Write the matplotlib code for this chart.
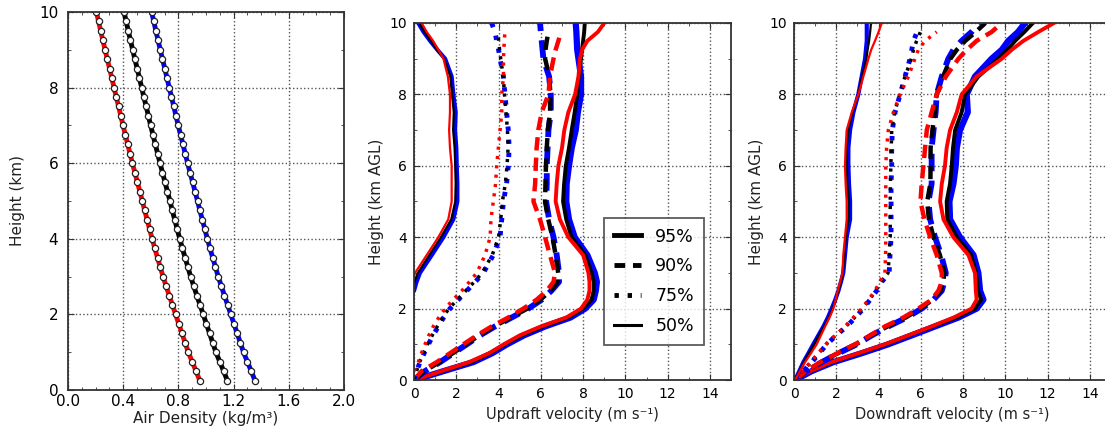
import numpy as np
import matplotlib
matplotlib.use('Agg')
from matplotlib import pyplot as plt
from matplotlib.ticker import MultipleLocator

nan = np.nan

# ---- panel 1: air density profiles ----
rho_height = [0.25, 0.5, 0.75, 1.0, 1.25, 1.5, 1.75, 2.0, 2.25, 2.5, 2.75, 3.0, 3.25, 3.5,
              3.75, 4.0, 4.25, 4.5, 4.75, 5.0, 5.25, 5.5, 5.75, 6.0, 6.25, 6.5, 6.75, 7.0,
              7.25, 7.5, 7.75, 8.0, 8.25, 8.5, 8.75, 9.0, 9.25, 9.5, 9.75, 10.0]
rho_red = [0.955, 0.928, 0.900, 0.872, 0.849, 0.826, 0.803, 0.780, 0.757, 0.734, 0.711, 0.689,
           0.669, 0.649, 0.629, 0.610, 0.592, 0.574, 0.556, 0.539, 0.521, 0.503, 0.485, 0.467,
           0.450, 0.433, 0.416, 0.399, 0.383, 0.367, 0.350, 0.334, 0.318, 0.302, 0.285, 0.269,
           0.253, 0.237, 0.222, 0.206]
rho_black = [1.155, 1.128, 1.100, 1.072, 1.049, 1.026, 1.003, 0.980, 0.957, 0.934, 0.911, 0.889,
             0.869, 0.849, 0.829, 0.810, 0.792, 0.774, 0.756, 0.739, 0.721, 0.703, 0.685, 0.667,
             0.650, 0.633, 0.616, 0.599, 0.583, 0.567, 0.550, 0.534, 0.518, 0.502, 0.485, 0.469,
             0.453, 0.437, 0.422, 0.406]
rho_blue = [1.355, 1.328, 1.300, 1.272, 1.249, 1.226, 1.203, 1.180, 1.157, 1.134, 1.111, 1.089,
            1.069, 1.049, 1.029, 1.010, 0.992, 0.974, 0.956, 0.939, 0.921, 0.903, 0.885, 0.867,
            0.850, 0.833, 0.816, 0.799, 0.783, 0.767, 0.750, 0.734, 0.718, 0.702, 0.685, 0.669,
            0.653, 0.637, 0.622, 0.606]

# ---- panels 2 & 3: velocity percentiles ----
z = [0, 0.25, 0.5, 0.75, 1, 1.25, 1.5, 1.75, 2, 2.25, 2.5, 2.75, 3, 3.5, 4, 4.5, 5,
     5.5, 6, 6.5, 7, 7.5, 8, 8.5, 9, 9.25, 9.5, 9.75, 10]

# updraft
up95_blue = [0.05, 1.4, 2.8, 3.7, 4.4, 5.2, 6.2, 7.4, 8.1, 8.5, 8.6, 8.65, 8.55, 8.2, 7.6, 7.33, 7.2,
             7.22, 7.33, 7.46, 7.65, 7.75, 7.9, 7.9, 7.78, 7.72, 7.7, 7.68, 7.65]
up95_black = [0.05, 1.35, 2.7, 3.6, 4.3, 5.1, 6.1, 7.3, 8.0, 8.4, 8.5, 8.5, 8.4, 8.1, 7.45, 7.2, 7.05,
              7.1, 7.18, 7.33, 7.46, 7.6, 7.72, 7.8, 7.9, 7.95, 8.0, 8.05, 8.08]
up95_red = [0.05, 1.3, 2.6, 3.55, 4.25, 5.0, 6.0, 7.2, 7.9, 8.2, 8.3, 8.3, 8.25, 8.0, 7.3, 6.9, 6.7,
            6.75, 6.83, 7.0, 7.11, 7.3, 7.62, 7.78, 7.85, 7.95, 8.2, 8.7, 9.0]
up90_blue = [0.0, 0.52, 1.23, 1.86, 2.5, 3.12, 3.83, 4.62, 5.41, 6.04, 6.5, 6.86, 6.86, 6.75, 6.6, 6.39, 6.25,
             6.28, 6.28, 6.32, 6.36, 6.47, 6.47, 6.39, 6.12, 6.08, 6.04, 6.0, 5.96]
up90_black = [0.0, 0.5, 1.2, 1.83, 2.47, 3.08, 3.79, 4.58, 5.36, 5.98, 6.45, 6.8, 6.82, 6.7, 6.55, 6.35, 6.2,
              6.22, 6.24, 6.28, 6.33, 6.44, 6.45, 6.4, 6.2, 6.22, 6.28, 6.36, nan]
up90_red = [0.0, 0.36, 1.07, 1.7, 2.33, 2.97, 3.67, 4.46, 5.17, 5.8, 6.28, 6.6, 6.67, 6.43, 6.2, 5.96, 5.65,
            5.73, 5.76, 5.8, 5.88, 6.04, 6.36, 6.43, 6.6, 6.7, 6.83, 6.95, nan]
up75_blue = [0.0, 0.13, 0.28, 0.48, 0.68, 0.9, 1.15, 1.4, 1.7, 2.1, 2.5, 2.9, 3.28, 3.75, 4.07, 4.15, 4.23,
             4.38, 4.46, 4.5, 4.46, 4.38, 4.3, 4.23, 4.07, 4.0, 3.91, 3.83, 3.67]
up75_black = [0.0, 0.12, 0.26, 0.45, 0.64, 0.86, 1.1, 1.35, 1.65, 2.05, 2.45, 2.85, 3.22, 3.7, 4.0, 4.1, 4.18,
              4.32, 4.4, 4.45, 4.42, 4.35, 4.28, 4.22, 4.1, 4.05, 4.0, 3.98, nan]
up75_red = [-0.1, 0.0, 0.2, 0.35, 0.52, 0.7, 0.91, 1.17, 1.47, 1.85, 2.26, 2.62, 2.97, 3.36, 3.6, 3.64, 3.75,
            3.86, 3.91, 3.99, 4.07, 4.15, 4.15, 4.23, 4.23, 4.25, 4.27, 4.3, nan]
up50_blue = [nan, nan, nan, nan, nan, nan, nan, nan, nan, -0.3, 0.0, 0.12, 0.28, 0.84, 1.39, 1.86, 2.05,
             2.05, 2.02, 2.0, 1.94, 1.97, 1.86, 1.78, 1.47, 1.1, 0.76, 0.45, 0.2]
up50_black = [nan, nan, nan, nan, nan, nan, nan, nan, nan, nan, -0.2, 0.02, 0.18, 0.72, 1.27, 1.76, 1.95,
              1.97, 1.95, 1.92, 1.85, 1.88, 1.8, 1.72, 1.42, 1.08, 0.8, 0.5, 0.25]
up50_red = [nan, nan, nan, nan, nan, nan, nan, nan, nan, nan, nan, -0.1, 0.05, 0.6, 1.15, 1.62, 1.78,
            1.78, 1.78, 1.7, 1.66, 1.7, 1.7, 1.6, 1.39, 1.15, 0.9, 0.6, 0.36]

# downdraft
dn95_blue = [0.05, 0.84, 1.86, 3.2, 4.46, 5.57, 6.67, 7.78, 8.64, 8.96, 8.8, 8.76, 8.72, 8.49, 7.85, 7.38, 7.35,
             7.54, 7.65, 7.7, 7.85, 8.22, 8.17, 8.56, 9.35, 9.83, 10.14, 10.6, 10.93]
dn95_black = [0.05, 0.8, 1.8, 3.1, 4.35, 5.45, 6.55, 7.68, 8.55, 8.85, 8.7, 8.66, 8.62, 8.38, 7.7, 7.25, 7.22,
              7.38, 7.46, 7.52, 7.62, 7.93, 8.09, 8.72, 9.67, 10.1, 10.46, 10.9, 11.3]
dn95_red = [0.05, 0.78, 1.75, 3.05, 4.3, 5.4, 6.5, 7.55, 8.4, 8.64, 8.6, 8.58, 8.56, 8.25, 7.54, 7.07, 6.91,
            6.99, 7.14, 7.22, 7.38, 7.7, 7.93, 8.64, 9.83, 10.3, 10.85, 11.56, 12.3]
dn90_blue = [0.05, 0.6, 1.31, 2.1, 2.97, 3.68, 4.46, 5.33, 6.04, 6.6, 6.99, 7.11, 7.18, 6.96, 6.67, 6.44, 6.36,
             6.51, 6.51, 6.51, 6.6, 6.7, 6.75, 6.99, 7.3, 7.54, 7.93, 8.4, 8.75]
dn90_black = [0.05, 0.58, 1.28, 2.07, 2.93, 3.64, 4.42, 5.28, 5.98, 6.55, 6.93, 7.05, 7.12, 6.9, 6.6, 6.38, 6.3,
              6.45, 6.46, 6.46, 6.55, 6.66, 6.75, 7.05, 7.4, 7.7, 8.1, 8.6, 9.05]
dn90_red = [0.05, 0.55, 1.25, 2.05, 2.89, 3.6, 4.3, 5.17, 5.88, 6.51, 6.83, 6.99, 6.99, 6.75, 6.44, 6.17, 5.98,
            6.04, 6.12, 6.2, 6.28, 6.51, 6.75, 7.18, 7.78, 8.17, 8.64, 9.35, 9.83]
dn75_blue = [0.05, 0.44, 0.84, 1.2, 1.55, 2.0, 2.49, 2.9, 3.28, 3.6, 3.91, 4.15, 4.5, 4.54, 4.59, 4.59, 4.59,
             4.59, 4.62, 4.62, 4.65, 4.78, 5.02, 5.25, 5.49, 5.57, 5.65, 5.82, nan]
dn75_black = [0.05, 0.42, 0.8, 1.17, 1.52, 1.96, 2.45, 2.86, 3.24, 3.56, 3.87, 4.1, 4.45, 4.5, 4.55, 4.55, 4.55,
              4.56, 4.58, 4.6, 4.62, 4.76, 5.0, 5.25, 5.55, 5.65, 5.8, 5.98, nan]
dn75_red = [0.05, 0.4, 0.78, 1.14, 1.5, 1.95, 2.41, 2.8, 3.2, 3.52, 3.83, 4.05, 4.3, 4.33, 4.34, 4.34, 4.34,
            4.34, 4.34, 4.38, 4.46, 4.7, 5.02, 5.41, 5.72, 5.88, 6.2, 6.75, nan]
dn50_blue = [0.05, 0.25, 0.44, 0.68, 0.91, 1.15, 1.39, 1.6, 1.78, 1.95, 2.1, 2.22, 2.33, 2.41, 2.49, 2.65, 2.65,
             2.6, 2.57, 2.57, 2.65, 2.81, 3.04, 3.2, 3.36, 3.4, 3.44, 3.44, 3.44]
dn50_black = [0.05, 0.26, 0.47, 0.7, 0.95, 1.18, 1.42, 1.65, 1.82, 1.98, 2.1, 2.22, 2.31, 2.38, 2.45, 2.57, 2.58,
              2.52, 2.5, 2.5, 2.56, 2.76, 3.03, 3.22, 3.42, 3.48, 3.55, 3.6, 3.64]
dn50_red = [0.05, 0.28, 0.52, 0.8, 1.07, 1.27, 1.47, 1.68, 1.86, 1.97, 2.07, 2.18, 2.29, 2.33, 2.41, 2.49, 2.49,
            2.44, 2.41, 2.44, 2.49, 2.73, 3.04, 3.28, 3.52, 3.65, 3.83, 4.0, 4.15]

pct_labels = ['95%', '90%', '75%', '50%']

plt.rcParams['font.family'] = 'DejaVu Sans'
plt.rcParams['xtick.direction'] = 'in'
plt.rcParams['ytick.direction'] = 'in'
plt.rcParams['xtick.top'] = True
plt.rcParams['ytick.right'] = True
plt.rcParams['xtick.major.size'] = 4
plt.rcParams['ytick.major.size'] = 4
plt.rcParams['xtick.minor.size'] = 2
plt.rcParams['ytick.minor.size'] = 2

fig = plt.figure(figsize=(11.05, 4.33), dpi=100)
ax1 = fig.add_axes([0.0615, 0.0993, 0.2498, 0.873])
ax2 = fig.add_axes([0.3747, 0.1224, 0.2869, 0.8245])
ax3 = fig.add_axes([0.7186, 0.1224, 0.2869, 0.8245])


def style(ax, fs, xpad=5, ypad=5):
    for s in ax.spines.values():
        s.set_linewidth(1.3)
        s.set_color('#333333')
    ax.grid(True, which='major', linestyle=':', color='#555555', linewidth=1.0)
    ax.tick_params(which='both', color='#333333', labelsize=fs)
    ax.tick_params(axis='x', pad=xpad)
    ax.tick_params(axis='y', pad=ypad)


# panel 1
for vals, c in [(rho_red, 'red'), (rho_black, 'black'), (rho_blue, 'blue')]:
    ax1.plot(vals, rho_height, color=c, lw=3.5, marker='o', ms=4.5,
             mfc='white', mec='#222222', mew=0.9)
ax1.set_xlim(0, 2.0)
ax1.set_ylim(0, 10)
ax1.xaxis.set_major_locator(MultipleLocator(0.4))
ax1.xaxis.set_minor_locator(MultipleLocator(0.1))
ax1.yaxis.set_major_locator(MultipleLocator(2))
ax1.yaxis.set_minor_locator(MultipleLocator(1))
style(ax1, 11, xpad=3, ypad=7)
ax1.set_xlabel('Air Density (kg/m³)', fontsize=11, color='#222222', labelpad=1)
ax1.set_ylabel('Height (km)', fontsize=11, color='#222222', labelpad=10)

styles = {
    '95%': dict(ls='-', w={'blue': 4.5, 'black': 2.8, 'red': 2.8}),
    '90%': dict(ls=(0, (3.0, 1.6)), w={'blue': 4.2, 'black': 3.2, 'red': 3.2}),
    '75%': dict(ls=(0, (0.9, 1.8)), w={'blue': 3.5, 'black': 2.5, 'red': 2.5}),
    '50%': dict(ls='-', w={'blue': 3.0, 'black': 1.6, 'red': 1.6}),
}
legend_ls = ['-', (0, (2.2, 1.6)), (0, (0.9, 1.8)), '-']

up = {'95%': (up95_blue, up95_black, up95_red), '90%': (up90_blue, up90_black, up90_red),
      '75%': (up75_blue, up75_black, up75_red), '50%': (up50_blue, up50_black, up50_red)}
dn = {'95%': (dn95_blue, dn95_black, dn95_red), '90%': (dn90_blue, dn90_black, dn90_red),
      '75%': (dn75_blue, dn75_black, dn75_red), '50%': (dn50_blue, dn50_black, dn50_red)}

for ax, data, xl in [(ax2, up, 'Updraft velocity (m s⁻¹)'),
                     (ax3, dn, 'Downdraft velocity (m s⁻¹)')]:
    for p in pct_labels:
        st = styles[p]
        for vals, c in zip(data[p], ['blue', 'black', 'red']):
            ax.plot(vals, z, color=c, lw=st['w'][c], ls=st['ls'])
    ax.set_xlim(0, 15)
    ax.set_ylim(0, 10)
    ax.xaxis.set_major_locator(MultipleLocator(2))
    ax.xaxis.set_minor_locator(MultipleLocator(1))
    ax.yaxis.set_major_locator(MultipleLocator(2))
    ax.yaxis.set_minor_locator(MultipleLocator(1))
    style(ax, 10)
    ax.set_xticks(range(0, 15, 2))
    ax.set_xlabel(xl, fontsize=10.5, color='#222222')
    ax.set_ylabel('Height (km AGL)', fontsize=11, color='#222222', labelpad=4)

# legend in panel 2
handles = []
for ls, lw in zip(legend_ls, [3.5, 3.5, 3.5, 2.2]):
    h, = ax2.plot([], [], color='black', lw=lw, ls=ls)
    handles.append(h)
leg = ax2.legend(handles, pct_labels, loc='upper left',
                 bbox_to_anchor=(604 / 1105, 1 - 218 / 433), bbox_transform=fig.transFigure,
                 fontsize=12.5, frameon=True, fancybox=False, handlelength=1.6,
                 labelspacing=0.68, borderpad=0.55, handletextpad=0.8, borderaxespad=0)
leg.get_frame().set_edgecolor('#333333')
leg.get_frame().set_linewidth(1.3)

fig.savefig('out.png', dpi=100)
